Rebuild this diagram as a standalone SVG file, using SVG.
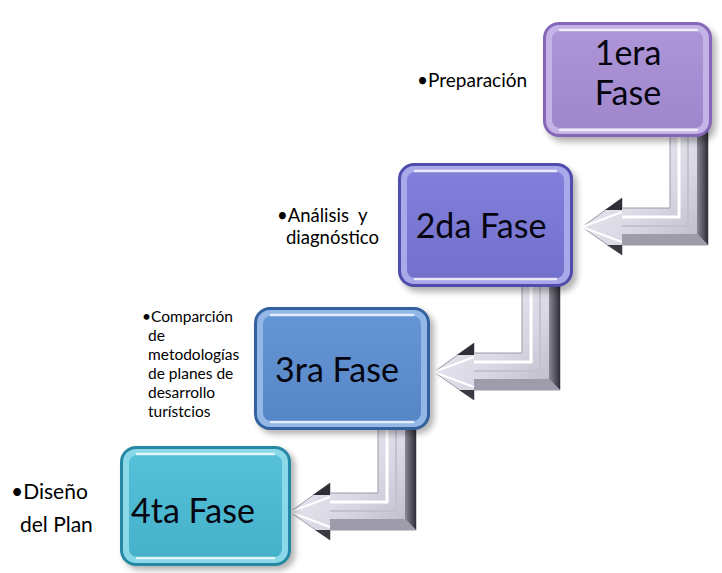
<svg xmlns="http://www.w3.org/2000/svg" xmlns:xlink="http://www.w3.org/1999/xlink" width="722" height="573" viewBox="0 0 722 573">
<style>
  .lbl { font-family: Lato, "Liberation Sans", sans-serif; fill: #000; }
  .big { font-family: Lato, "Liberation Sans", sans-serif; font-size: 34px; fill: #05050f; text-anchor: middle; }
  .hl { fill: none; stroke: #ffffff; stroke-opacity: 0.75; stroke-width: 2.5; stroke-linecap: round; }
</style>
<defs>
  <filter id="sh" x="-20%" y="-20%" width="140%" height="140%">
    <feGaussianBlur stdDeviation="3"/>
  </filter>
  <linearGradient id="silver" x1="0" y1="0" x2="1" y2="1">
    <stop offset="0" stop-color="#f4f3f8"/>
    <stop offset="0.6" stop-color="#d9d7e3"/>
    <stop offset="1" stop-color="#b7b5c4"/>
  </linearGradient>
  <linearGradient id="darkv" x1="0" y1="0" x2="1" y2="0">
    <stop offset="0" stop-color="#8a8896"/>
    <stop offset="1" stop-color="#2e2d36"/>
  </linearGradient>
  <linearGradient id="g1" x1="0" y1="0" x2="0" y2="1">
    <stop offset="0" stop-color="#ad95d8"/><stop offset="1" stop-color="#a087cc"/>
  </linearGradient>
  <linearGradient id="g2" x1="0" y1="0" x2="0" y2="1">
    <stop offset="0" stop-color="#817fd9"/><stop offset="1" stop-color="#7371cc"/>
  </linearGradient>
  <linearGradient id="g3" x1="0" y1="0" x2="0" y2="1">
    <stop offset="0" stop-color="#6595d4"/><stop offset="1" stop-color="#5686c6"/>
  </linearGradient>
  <linearGradient id="g4" x1="0" y1="0" x2="0" y2="1">
    <stop offset="0" stop-color="#55c0d8"/><stop offset="1" stop-color="#45b1ca"/>
  </linearGradient>
  <g id="arrow">
    <path d="M670,130 H708 V245 H622 V255 L582,227 L622,198 V208 H670 Z" fill="url(#silver)" stroke="#9c9aa8" stroke-width="1"/>
    <path d="M697,130 H708 V245 L697,234 Z" fill="url(#darkv)"/>
    <path d="M622,234 H697 L708,245 H622 Z" fill="#9e9cab"/>
    <path d="M622,198 V210 L605,210 Z" fill="#2f2e37"/>
    <path d="M622,255 V245 L607,245 Z" fill="#3a3942"/>
    <polyline points="679,130 679,217 622,217" fill="none" stroke="#ffffff" stroke-width="3"/>
    <polyline points="688,130 688,226 622,226" fill="none" stroke="#c3c1d0" stroke-width="2"/>
    <path d="M582,227 L622,212 M582,227 L622,242" fill="none" stroke="#ffffff" stroke-width="2"/>
  </g>
</defs>
<rect width="722" height="573" fill="#ffffff"/>

<g id="connectors">
  <use xlink:href="#arrow"/>
  <use xlink:href="#arrow" transform="translate(-148,145)"/>
  <use xlink:href="#arrow" transform="translate(-292,285)"/>
</g>

<g id="fase1">
  <rect x="547" y="27" width="169" height="115" rx="16" fill="#000" opacity="0.3" filter="url(#sh)"/>
  <rect x="543" y="22" width="169" height="115" rx="16" fill="#8467b8"/>
  <rect x="546" y="25" width="163" height="109" rx="13" fill="#c4b3e6"/>
  <rect x="552" y="31" width="151" height="97" rx="8" fill="url(#g1)"/>
  <path class="hl" d="M560,30 H697"/>
  <path class="hl" d="M560,130 H697" stroke-opacity="0.5"/>
  <text class="big" x="628" y="65">1era</text>
  <text class="big" x="628" y="105">Fase</text>
</g>

<g id="fase2">
  <rect x="402" y="168" width="175" height="124" rx="16" fill="#000" opacity="0.3" filter="url(#sh)"/>
  <rect x="398" y="163" width="175" height="124" rx="16" fill="#4f4cab"/>
  <rect x="401" y="166" width="169" height="118" rx="13" fill="#a9a8ea"/>
  <rect x="407" y="172" width="157" height="106" rx="8" fill="url(#g2)"/>
  <path class="hl" d="M415,171 H556"/>
  <path class="hl" d="M415,279 H556" stroke-opacity="0.5"/>
  <text class="big" x="481" y="238">2da Fase</text>
</g>

<g id="fase3">
  <rect x="258" y="311" width="176" height="123" rx="16" fill="#000" opacity="0.3" filter="url(#sh)"/>
  <rect x="254" y="307" width="176" height="123" rx="16" fill="#33619f"/>
  <rect x="257" y="310" width="170" height="117" rx="13" fill="#93b7e6"/>
  <rect x="263" y="316" width="158" height="105" rx="8" fill="url(#g3)"/>
  <path class="hl" d="M271,315 H413"/>
  <path class="hl" d="M271,422 H413" stroke-opacity="0.5"/>
  <text class="big" x="337" y="382">3ra Fase</text>
</g>

<g id="fase4">
  <rect x="124" y="450" width="171" height="120" rx="16" fill="#000" opacity="0.3" filter="url(#sh)"/>
  <rect x="120" y="446" width="171" height="120" rx="16" fill="#2589a4"/>
  <rect x="123" y="449" width="165" height="114" rx="13" fill="#8ad8e8"/>
  <rect x="129" y="455" width="153" height="102" rx="8" fill="url(#g4)"/>
  <path class="hl" d="M137,454 H274"/>
  <path class="hl" d="M137,558 H274" stroke-opacity="0.5"/>
  <text class="big" x="193" y="523">4ta Fase</text>
</g>

<g id="labels">
  <text class="lbl" x="417" y="87" font-size="19">•Preparación</text>
  <text class="lbl" x="277" y="222" font-size="18.5" xml:space="preserve">•Análisis  y</text>
  <text class="lbl" x="286" y="244" font-size="18.5">diagnóstico</text>
  <text class="lbl" font-size="15.5">
    <tspan x="142" y="322">•Comparción</tspan>
    <tspan x="148" y="341">de</tspan>
    <tspan x="148" y="360">metodologías</tspan>
    <tspan x="148" y="379">de planes de</tspan>
    <tspan x="148" y="398">desarrollo</tspan>
    <tspan x="148" y="417">turístcios</tspan>
  </text>
  <text class="lbl" x="11" y="499" font-size="21">•Diseño</text>
  <text class="lbl" x="20" y="532" font-size="21">del Plan</text>
</g>
</svg>
